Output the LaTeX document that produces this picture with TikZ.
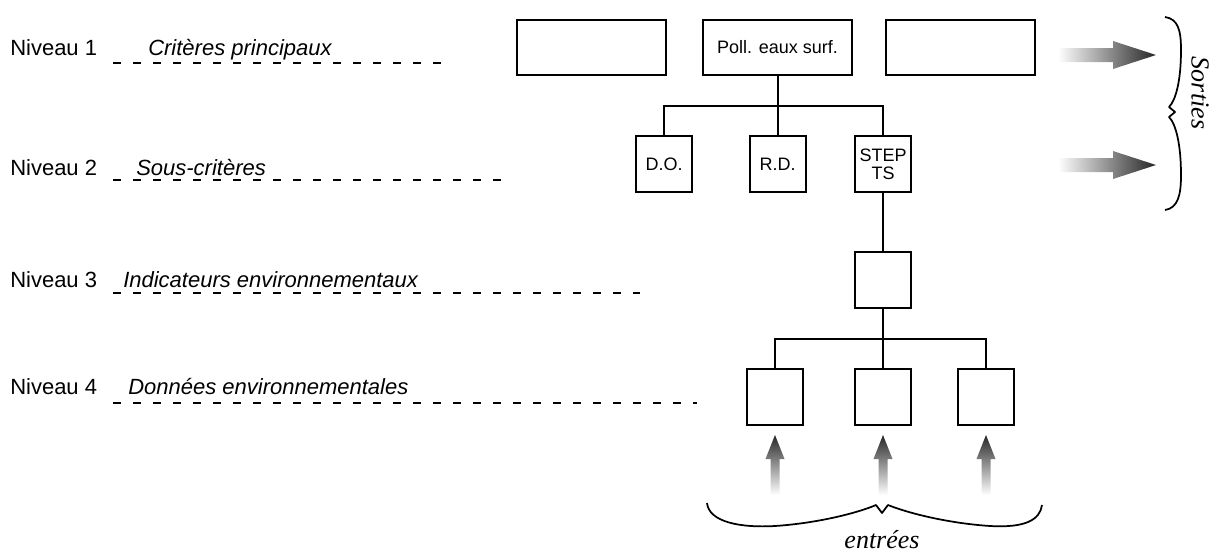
\documentclass[tikz,border=0pt]{standalone}
\usepackage{fontspec}
\setmainfont{Liberation Serif}
\setsansfont{Liberation Sans}
\begin{document}
\begin{tikzpicture}[x=0.75pt,y=-0.75pt,
  lvl/.style={font=\sffamily\fontsize{16.5}{18}\selectfont, anchor=base west, inner sep=0pt},
  lvlit/.style={font=\sffamily\itshape\fontsize{16.5}{18}\selectfont, anchor=base west, inner sep=0pt},
  bx/.style={draw, line width=1.5pt, font=\sffamily\fontsize{13.5}{15.5}\selectfont, inner sep=1pt, align=center},
  widebox/.style={bx, minimum width=111.75pt, minimum height=41.25pt},
  sqbox/.style={bx, minimum width=42pt, minimum height=42.5pt},
  conn/.style={line width=1.5pt},
  guide/.style={line width=1.5pt, dash pattern=on 6pt off 9pt},
  bracestyle/.style={line width=1.3pt, line join=round},
  sertext/.style={font=\rmfamily\itshape\fontsize{19.5}{22}\selectfont, inner sep=0pt}
]
\useasboundingbox (0,0) rectangle (1217,553);

% level labels
\node[lvl] (n1) at (10,55) {Niveau 1};
\node[lvlit] (t1) at (148,55) {Critères principaux};
\node[lvl] (n2) at (10,175) {Niveau 2};
\node[lvlit] (t2) at (136,175) {Sous-critères};
\node[lvl] (n3) at (10,287) {Niveau 3};
\node[lvlit] (t3) at (123,287) {Indicateurs environnementaux};
\node[lvl] (n4) at (10,394) {Niveau 4};
\node[lvlit] (t4) at (128,394) {Données environnementales};

\coordinate (d1a) at (113,63);  \coordinate (d1b) at (452,63);
\coordinate (d2a) at (113,180); \coordinate (d2b) at (510,180);
\coordinate (d3a) at (113,293); \coordinate (d3b) at (640,293);
\coordinate (d4a) at (113,403); \coordinate (d4b) at (697,403);
\draw[guide] (d1a) -- (d1b);
\draw[guide] (d2a) -- (d2b);
\draw[guide] (d3a) -- (d3b);
\draw[guide] (d4a) -- (d4b);

% level 1
\node[widebox] (c1) at (591.5,47.5) {};
\node[widebox] (poll) at (777.5,47.5) {Poll. eaux surf.};
\node[widebox] (c3) at (960.5,47.5) {};

% level 2
\node[sqbox] (do) at (664,164) {D.O.};
\node[sqbox] (rd) at (777.5,164) {R.D.};
\node[sqbox] (step) at (883,164) {STEP\\[-2pt]TS};

% level 3
\node[sqbox] (ind) at (883,280) {};

% level 4
\node[sqbox] (e1) at (775,397) {};
\node[sqbox] (e2) at (883,397) {};
\node[sqbox] (e3) at (986,397) {};

% connectors
\coordinate (h1) at (777.5,106);
\coordinate (h2) at (883,339);
\draw[conn] (poll.south) -- (h1);
\draw[conn] (do.north) |- (h1) -| (step.north);
\draw[conn] (rd.north) -- (h1);
\draw[conn] (step.south) -- (ind.north);
\draw[conn] (ind.south) -- (h2);
\draw[conn] (e1.north) |- (h2) -| (e3.north);
\draw[conn] (e2.north) -- (h2);

% output arrows (shaded)
\shade[left color=white, right color=black!85]
  (1058,48) -- (1113,48) -- (1113,41) -- (1156,55) -- (1113,69) -- (1113,62) -- (1058,62) -- cycle;
\shade[left color=white, right color=black!85]
  (1058,158) -- (1113,158) -- (1113,151) -- (1156,165) -- (1113,179) -- (1113,172) -- (1058,172) -- cycle;

% input arrows (shaded)
\foreach \xx in {775,883,986}{
  \shade[bottom color=white, top color=black!85]
    (\xx-4.5,495) -- (\xx-4.5,459) -- (\xx-9.5,459) -- (\xx,435) -- (\xx+9.5,459) -- (\xx+4.5,459) -- (\xx+4.5,495) -- cycle;
}

% bottom brace
\draw[bracestyle] (707,503) .. controls (709,522) and (740,528) .. (775,526)
  .. controls (820,523) and (860,512) .. (876,505) -- (882,513) -- (888,505)
  .. controls (905,512) and (945,523) .. (990,526)
  .. controls (1025,528) and (1040,520) .. (1042,505);
\node[sertext] (entrees) at (882,540) {entrées};

% right brace
\draw[bracestyle] (1165,17) .. controls (1178,19) and (1181,30) .. (1181,50)
  .. controls (1181,80) and (1176,100) .. (1169,107) -- (1175,112) -- (1169,117)
  .. controls (1176,124) and (1181,145) .. (1181,175)
  .. controls (1181,195) and (1178,208) .. (1165,210);
\node[sertext, rotate=-90] (sorties) at (1200,93) {Sorties};
\end{tikzpicture}
\end{document}
